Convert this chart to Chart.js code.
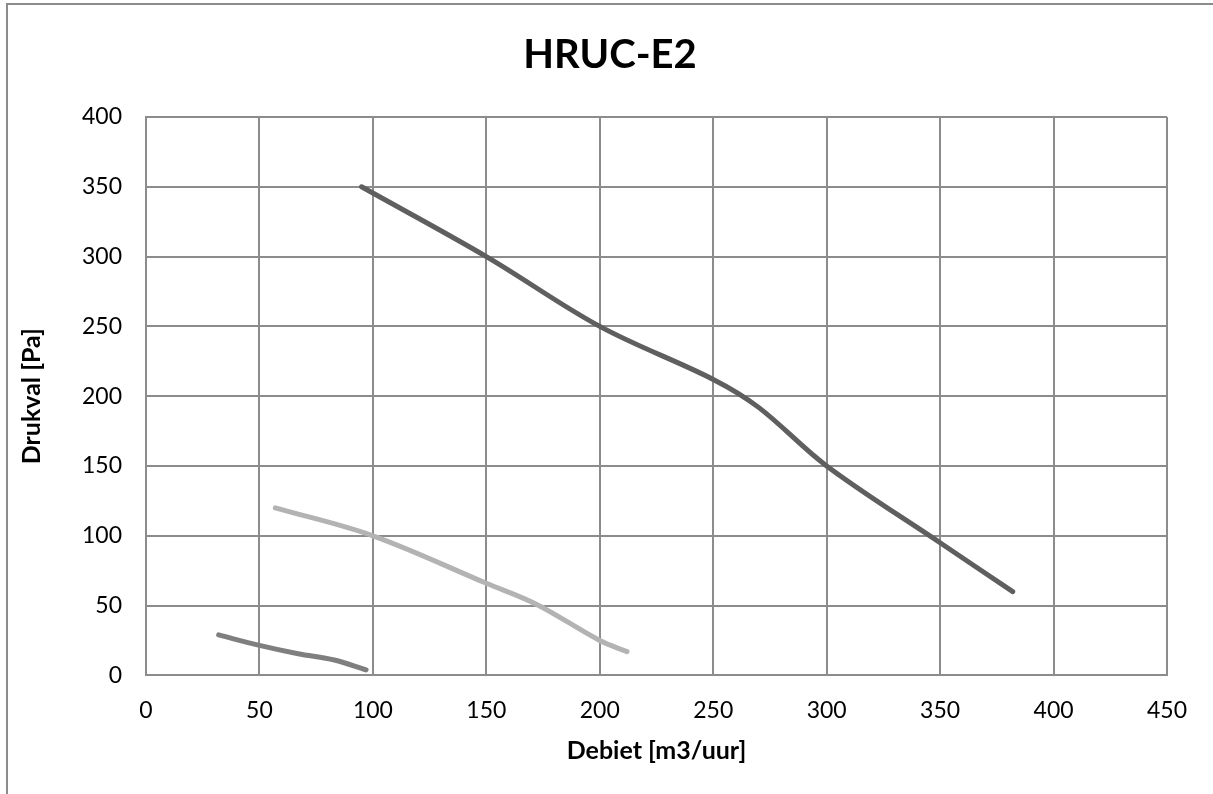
<!DOCTYPE html>
<html>
<head>
<meta charset="utf-8">
<script src="https://cdn.jsdelivr.net/npm/chart.js@4.4.1/dist/chart.umd.min.js"></script>
<style>
    html, body { margin: 0; padding: 0; background: #fff; overflow: hidden; }
    .frame { position: absolute; left: 6px; top: 3px; width: 1300px; height: 900px; border: 2px solid #8c8c8c; }
    .chart_box { position: absolute; left: 0; top: 0; width: 1213px; height: 794px; }
</style>
</head>
<body>
<div class="frame"></div>
<div class="chart_box"><canvas id="chart"></canvas></div>
<script>
// fan curves: flow [m3/uur] vs pressure drop [Pa]
const flowHigh = [95, 150, 200, 250, 270, 300, 350, 382];
const pressHigh = [350, 300, 250, 212, 192, 150, 95, 60];

const flowMid = [57, 100, 150, 172, 200, 212];
const pressMid = [120, 100, 66, 51, 25, 17];

const flowLow = [32, 50, 67, 83, 97];
const pressLow = [29, 21.5, 15.5, 11, 4];

const xTicks = [0, 50, 100, 150, 200, 250, 300, 350, 400, 450];
const yTicks = [0, 50, 100, 150, 200, 250, 300, 350, 400];

function toPoints(xs, ys) {
    return xs.map(function (x, i) { return { x: x, y: ys[i] }; });
}

function curve(label, xs, ys, color) {
    return {
        label: label,
        data: toPoints(xs, ys),
        showLine: true,
        borderColor: color,
        backgroundColor: color,
        borderWidth: 5,
        borderCapStyle: "round",
        pointRadius: 0,
        tension: 0.35,
        fill: false
    };
}

const gridColor = "#8c8c8c";
const font = "Lato, 'Open Sans', sans-serif";

// excel centres the title a bit right of the canvas middle
const titleShift = {
    id: "titleShift",
    afterLayout: function (chart) {
        if (chart.titleBlock) {
            chart.titleBlock.left += 18;
            chart.titleBlock.right += 18;
        }
    }
};

new Chart(document.getElementById("chart"), {
    type: "scatter",
    data: {
        datasets: [
            curve("Hoog", flowHigh, pressHigh, "#5f5f5f"),
            curve("Midden", flowMid, pressMid, "#b3b3b3"),
            curve("Laag", flowLow, pressLow, "#7f7f7f")
        ]
    },
    plugins: [titleShift],
    options: {
        responsive: true,
        maintainAspectRatio: false,
        animation: false,
        layout: { padding: { left: 17, right: 46, top: 0, bottom: 0 } },
        plugins: {
            legend: { display: false },
            tooltip: { enabled: false },
            title: {
                display: true,
                text: "HRUC-E2",
                color: "#000",
                font: { family: font, size: 40, weight: "bold" },
                padding: { top: 31, bottom: 38 }
            }
        },
        scales: {
            x: {
                type: "linear",
                min: 0,
                max: 450,
                afterBuildTicks: function (scale) {
                    scale.ticks = xTicks.map(function (v) { return { value: v }; });
                },
                grid: { color: gridColor, lineWidth: 2, drawTicks: false },
                border: { color: gridColor, width: 2 },
                ticks: { color: "#000", padding: 21, font: { family: font, size: 23 } },
                title: {
                    display: true,
                    text: "Debiet [m3/uur]",
                    color: "#000",
                    font: { family: font, size: 25, weight: "bold" },
                    padding: { top: -9, bottom: 28 }
                }
            },
            y: {
                type: "linear",
                min: 0,
                max: 400,
                afterBuildTicks: function (scale) {
                    scale.ticks = yTicks.map(function (v) { return { value: v }; });
                },
                grid: { color: gridColor, lineWidth: 2, drawTicks: false },
                border: { color: gridColor, width: 2 },
                ticks: { color: "#000", padding: 24, font: { family: font, size: 23 } },
                title: {
                    display: true,
                    text: "Drukval [Pa]",
                    color: "#000",
                    font: { family: font, size: 25, weight: "bold" },
                    padding: { top: 0, bottom: 11 }
                }
            }
        }
    }
});
</script>
</body>
</html>
